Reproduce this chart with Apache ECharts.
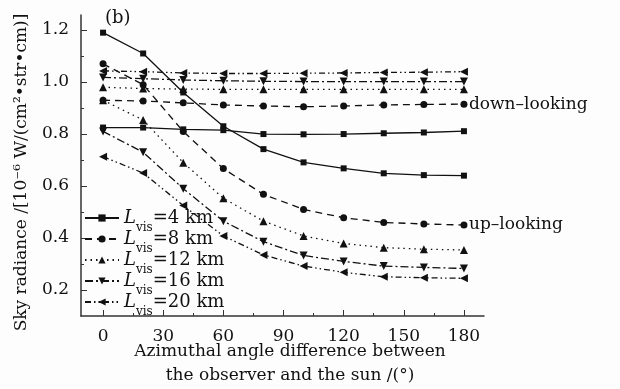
<!DOCTYPE html>
<html>
<head>
<meta charset="utf-8">
<script src="https://cdn.jsdelivr.net/npm/echarts@6/dist/echarts.min.js"></script>
<style>
  html, body { margin: 0; padding: 0; background: #fdfdfd; }
  #main { width: 620px; height: 389px; }
</style>
</head>
<body>
<div id="main"></div>
<script>
// azimuth angles (deg)
var angles = [0, 20, 40, 60, 80, 100, 120, 140, 160, 180];
// up-looking radiance
var up4 = [1.19, 1.11, 0.96, 0.83, 0.742, 0.691, 0.668, 0.649, 0.642, 0.64];
var up8 = [1.07, 0.99, 0.81, 0.667, 0.568, 0.51, 0.478, 0.46, 0.454, 0.45];
var up12 = [0.93, 0.854, 0.69, 0.553, 0.465, 0.408, 0.379, 0.363, 0.357, 0.354];
var up16 = [0.81, 0.73, 0.59, 0.465, 0.386, 0.333, 0.31, 0.292, 0.287, 0.283];
var up20 = [0.713, 0.65, 0.525, 0.408, 0.335, 0.292, 0.268, 0.251, 0.247, 0.245];
// down-looking radiance
var down4 = [0.825, 0.825, 0.818, 0.815, 0.8, 0.799, 0.8, 0.803, 0.806, 0.811];
var down8 = [0.93, 0.927, 0.92, 0.912, 0.908, 0.905, 0.908, 0.912, 0.914, 0.915];
var down12 = [0.98, 0.975, 0.973, 0.972, 0.972, 0.972, 0.972, 0.972, 0.972, 0.972];
var down16 = [1.018, 1.013, 1.008, 1.005, 1.003, 1.002, 1.002, 1.002, 1.002, 1.002];
var down20 = [1.043, 1.04, 1.035, 1.033, 1.033, 1.034, 1.035, 1.037, 1.038, 1.04];

var visNames = ['4 km', '8 km', '12 km', '16 km', '20 km'];
var xTicks = [0, 30, 60, 90, 120, 150, 180];
var xMinor = [15, 45, 75, 105, 135, 165];
var yTicks = [0.2, 0.4, 0.6, 0.8, 1.0, 1.2];
var yMinor = [0.3, 0.5, 0.7, 0.9, 1.1];

var FONT = 'DejaVu Serif';
var INK = '#111';

var symbols = ['rect', 'circle', 'triangle',
  'path://M0,0 L10,0 L5,9 Z',
  'path://M9,0 L9,10 L0,5 Z'];
var sizes = [6, 7, 8, 8, 8];
var dashes = ['solid', [7, 5], [1.5, 4], [8, 3, 2, 3], [6, 3, 1.5, 3, 1.5, 3]];

function pairs(ys) {
  return angles.map(function (a, i) { return [a, ys[i]]; });
}

function makeSeries(name, k, ys, label) {
  var s = {
    name: name,
    type: 'line',
    data: pairs(ys),
    symbol: symbols[k],
    symbolSize: sizes[k],
    showAllSymbol: true,
    itemStyle: { color: INK },
    lineStyle: { color: INK, width: 1.3, type: dashes[k] },
    z: 3
  };
  if (label) {
    s.endLabel = {
      show: true,
      formatter: label,
      distance: 5,
      fontFamily: FONT,
      fontSize: 17,
      color: INK
    };
  }
  return s;
}

var series = [
  makeSeries(visNames[0], 0, up4),
  makeSeries(visNames[1], 1, up8, 'up\u2013looking'),
  makeSeries(visNames[2], 2, up12),
  makeSeries(visNames[3], 3, up16),
  makeSeries(visNames[4], 4, up20),
  makeSeries(visNames[0], 0, down4),
  makeSeries(visNames[1], 1, down8, 'down\u2013looking'),
  makeSeries(visNames[2], 2, down12),
  makeSeries(visNames[3], 3, down16),
  makeSeries(visNames[4], 4, down20)
];

var myChart = echarts.init(document.getElementById('main'));
myChart.setOption({
  backgroundColor: '#fdfdfd',
  animation: false,
  title: {
    text: '(b)',
    left: 100,
    top: 4,
    textStyle: { fontFamily: FONT, fontSize: 18, fontWeight: 'normal', color: INK }
  },
  legend: {
    data: visNames,
    orient: 'vertical',
    left: 84,
    top: 202,
    padding: 0,
    itemWidth: 34,
    itemHeight: 9,
    itemGap: -11,
    formatter: function (name) {
      return '{l|L}{s|vis}{t|=' + name + '}';
    },
    textStyle: {
      color: INK,
      rich: {
        l: { fontFamily: FONT, fontSize: 18, fontStyle: 'italic', lineHeight: 20, color: INK },
        s: { fontFamily: FONT, fontSize: 12, lineHeight: 12, padding: [20, 0, 0, 0], color: INK },
        t: { fontFamily: FONT, fontSize: 18, lineHeight: 20, color: INK }
      }
    }
  },
  grid: { left: 81, right: 136, top: 15, bottom: 73, outerBoundsMode: 'none', containLabel: false },
  xAxis: [{
    type: 'value',
    min: -11,
    max: 190,
    name: 'Azimuthal angle difference between\nthe observer and the sun /(\u00b0)',
    nameLocation: 'middle',
    nameGap: 24,
    nameMoveOverlap: false,
    nameTextStyle: { fontFamily: FONT, fontSize: 17, color: INK, lineHeight: 24, padding: [0, 0, 0, 15] },
    axisLine: { onZero: false, lineStyle: { color: '#333', width: 1.5 } },
    axisTick: { inside: true, length: 6, customValues: xTicks, lineStyle: { color: '#333' } },
    axisLabel: { customValues: xTicks, margin: 12, fontFamily: FONT, fontSize: 17, color: INK },
    splitLine: { show: false }
  }, {
    type: 'value',
    position: 'bottom',
    min: -11,
    max: 190,
    axisLine: { show: false, onZero: false },
    axisTick: { inside: true, length: 3, customValues: xMinor, lineStyle: { color: '#333' } },
    axisLabel: { show: false },
    splitLine: { show: false }
  }],
  yAxis: [{
    type: 'value',
    min: 0.1,
    max: 1.258,
    name: 'Sky radiance /[10\u207b\u2076 W/(cm\u00b2\u2022str\u2022cm)]',
    nameLocation: 'middle',
    nameGap: 51,
    nameMoveOverlap: false,
    nameTextStyle: { fontFamily: FONT, fontSize: 17, color: INK, padding: [0, 14, 0, 0] },
    axisLine: { show: true, onZero: false, lineStyle: { color: '#333', width: 1.5 } },
    axisTick: { show: true, inside: true, length: 6, customValues: yTicks, lineStyle: { color: '#333' } },
    axisLabel: {
      customValues: yTicks,
      margin: 12,
      fontFamily: FONT,
      fontSize: 17,
      color: INK,
      formatter: function (v) { return v.toFixed(1); }
    },
    splitLine: { show: false }
  }, {
    type: 'value',
    position: 'left',
    min: 0.1,
    max: 1.258,
    axisLine: { show: false, onZero: false },
    axisTick: { show: true, inside: true, length: 3, customValues: yMinor, lineStyle: { color: '#333' } },
    axisLabel: { show: false },
    splitLine: { show: false }
  }],
  series: series
});
</script>
</body>
</html>
